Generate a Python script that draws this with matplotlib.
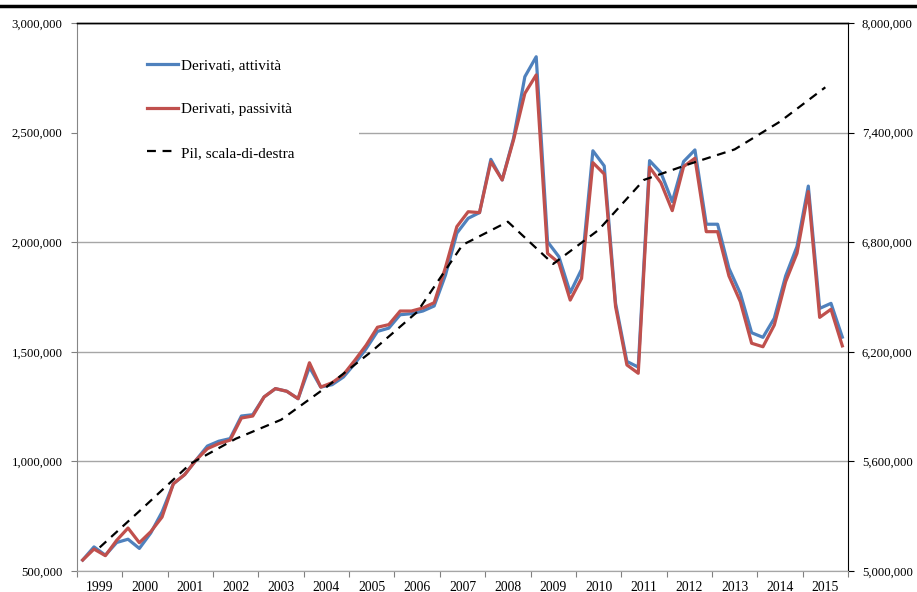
import matplotlib
matplotlib.use("Agg")
import matplotlib.pyplot as plt
from matplotlib.lines import Line2D
from matplotlib.patches import Rectangle
from matplotlib.ticker import FuncFormatter, FixedLocator
import numpy as np

plt.rcParams['font.family'] = ['Liberation Serif', 'DejaVu Serif']

years = list(range(1999, 2016))

# quarterly values, 1999Q1 .. 2015Q4
attivita = [550, 610, 572, 630, 645, 603, 673, 769, 898, 940,
            1006, 1070, 1092, 1104, 1207, 1213, 1294, 1332, 1320, 1286,
            1430, 1339, 1350, 1385, 1446, 1514, 1593, 1608, 1669, 1674,
            1686, 1709, 1850, 2041, 2109, 2135, 2378, 2284, 2474, 2755,
            2846, 2002, 1934, 1770, 1876, 2417, 2348, 1721, 1456, 1430,
            2372, 2317, 2185, 2368, 2421, 2082, 2082, 1881, 1767, 1587,
            1566, 1653, 1846, 1980, 2256, 1698, 1721, 1567]
passivita = [550, 600, 570, 640, 696, 629, 679, 746, 898, 940,
             1006, 1058, 1081, 1097, 1198, 1207, 1294, 1332, 1320, 1286,
             1450, 1339, 1359, 1396, 1461, 1530, 1612, 1624, 1686, 1686,
             1700, 1724, 1885, 2071, 2139, 2135, 2367, 2284, 2466, 2679,
             2763, 1949, 1906, 1736, 1835, 2363, 2311, 1706, 1440, 1402,
             2342, 2271, 2144, 2345, 2383, 2048, 2048, 1846, 1729, 1539,
             1523, 1622, 1820, 1949, 2231, 1657, 1694, 1527]
# annual, right axis
pil = [5129, 5356, 5587, 5724, 5828, 6007, 6203, 6418, 6785,
       6912, 6681, 6867, 7141, 7228, 7308, 7460, 7648]

attivita = np.array(attivita) * 1000
passivita = np.array(passivita) * 1000
pil = np.array(pil) * 1000

xq = np.arange(len(attivita)) + 0.5
xy = np.arange(len(years)) * 4 + 2

fig = plt.figure(figsize=(9.17, 5.92), dpi=100)
ax = fig.add_axes([77/917, 21/592, 771/917, 548/592])
ax2 = ax.twinx()

grid_col = '#a6a6a6'
blue = '#4f81bd'
red = '#c0504d'

l1, = ax.plot(xq, attivita, color=blue, lw=2.3, label='Derivati, attività', zorder=3)
l2, = ax.plot(xq, passivita, color=red, lw=2.3, label='Derivati, passività', zorder=4)
l3, = ax2.plot(xy, pil, color='black', lw=1.6, ls=(0, (4, 3)), label='Pil, scala-di-destra')

ax.set_xlim(0, 68)
ax.set_ylim(500000, 3000000)
ax2.set_ylim(5000000, 8000000)
ax.set_yticks(np.arange(500000, 3000001, 500000))
ax2.set_yticks(np.arange(5000000, 8000001, 600000))
fmt = FuncFormatter(lambda v, p: '{:,.0f}'.format(v))
ax.yaxis.set_major_formatter(fmt)
ax2.yaxis.set_major_formatter(fmt)

ax.set_axisbelow(True)
ax.yaxis.grid(True, color=grid_col, lw=1)

# years: tick marks at year boundaries, labels centred in each year
ax.xaxis.set_major_locator(FixedLocator(np.arange(0, 69, 4)))
ax.set_xticklabels([])
ax.set_xticks(xy, minor=True)
ax.set_xticklabels([str(y) for y in years], minor=True)
ax.tick_params(axis='x', which='major', length=4, color='#808080', direction='out')
ax.tick_params(axis='x', which='minor', length=0, pad=7, labelsize=9.8)
ax.tick_params(axis='y', length=4.5, color='#808080', pad=6, labelsize=9.2)
ax2.tick_params(axis='y', length=4, color='black', pad=6, labelsize=9.2)

for a in (ax, ax2):
    a.spines['left'].set_color('#868686')
    a.spines['bottom'].set_color(grid_col)
    a.spines['right'].set_color('black')
    a.spines['top'].set_color('black')
    a.spines['top'].set_linewidth(1)
ax.spines['right'].set_visible(False)
ax2.spines['left'].set_visible(False)

# white box behind the legend hides the gridline
ax.add_patch(Rectangle((0.001, 0.64), 0.365, 0.33, transform=ax.transAxes,
                       facecolor='white', edgecolor='none', zorder=1))

ax2.legend(handles=[l1, l2, l3], loc='center left', bbox_to_anchor=(0.081, 0.843),
           frameon=False, fontsize=11, borderpad=0, handlelength=2.05,
           handletextpad=0.15, labelspacing=1.98)

fig.add_artist(Line2D([0, 1], [1 - 5.8/592, 1 - 5.8/592], transform=fig.transFigure,
                      color='black', lw=2.5))

fig.savefig('out.png', dpi=100)
